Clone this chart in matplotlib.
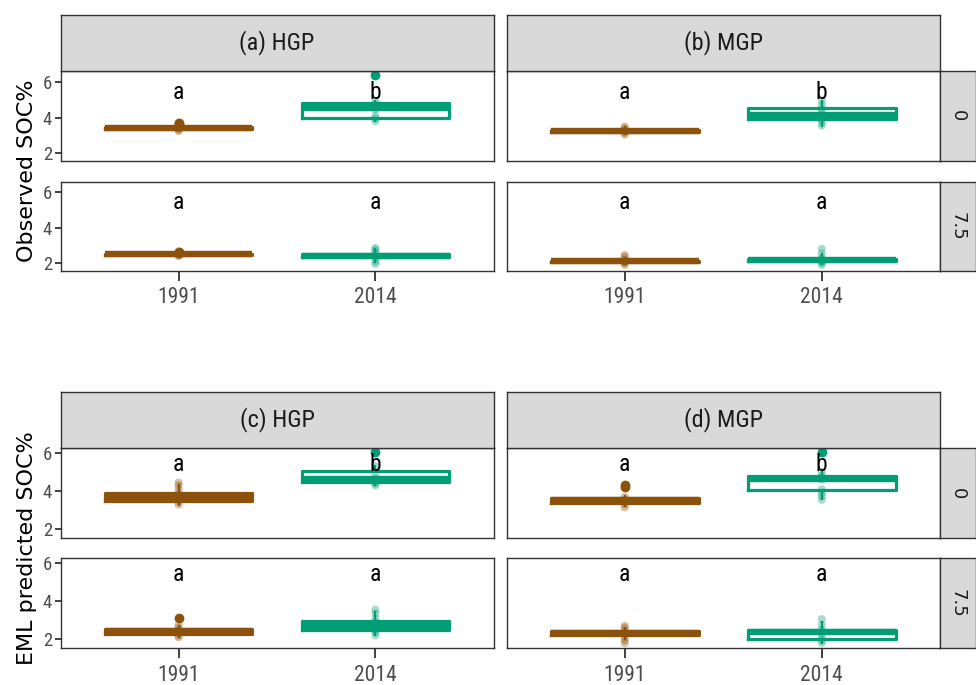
import matplotlib
matplotlib.use("Agg")
import matplotlib.pyplot as plt
import numpy as np

plt.rcParams["font.family"] = ["Roboto Condensed", "Liberation Sans", "DejaVu Sans"]

W, H = 976, 685

years = ["1991", "2014"]
depths = ["0", "7.5"]
obs_titles = ["(a) HGP", "(b) MGP"]
eml_titles = ["(c) HGP", "(d) MGP"]
y_titles = ["Observed SOC%", "EML predicted SOC%"]
colors = ["#8C510A", "#019E75"]

# box stats, one row per year: [q1, median, q3, whisker low, whisker high]
# observed SOC%
obs_hgp_0_box = [[3.38, 3.42, 3.46, 3.30, 3.56], [3.97, 4.52, 4.84, 3.80, 4.95]]
obs_hgp_0_pts = [[3.25, 3.32, 3.40, 3.45, 3.52, 3.62, 3.72], [3.80, 3.95, 4.10, 4.45, 4.60, 4.75, 4.90]]
obs_hgp_0_out = [[3.65, 3.72], [6.35]]

obs_hgp_75_box = [[2.47, 2.50, 2.53, 2.40, 2.62], [2.33, 2.42, 2.50, 2.05, 2.78]]
obs_hgp_75_pts = [[2.38, 2.45, 2.50, 2.55, 2.60, 2.66], [1.95, 2.10, 2.30, 2.45, 2.60, 2.75, 2.85]]
obs_hgp_75_out = [[2.58, 2.64], []]

obs_mgp_0_box = [[3.22, 3.26, 3.30, 3.10, 3.45], [3.90, 4.14, 4.54, 3.55, 4.95]]
obs_mgp_0_pts = [[3.05, 3.15, 3.25, 3.30, 3.40, 3.50], [3.55, 3.75, 3.90, 4.10, 4.30, 4.50, 4.70, 4.95]]
obs_mgp_0_out = [[], []]

obs_mgp_75_box = [[2.06, 2.09, 2.12, 1.95, 2.30], [2.12, 2.18, 2.25, 1.95, 2.50]]
obs_mgp_75_pts = [[1.90, 2.00, 2.05, 2.10, 2.20, 2.35, 2.45], [1.90, 2.00, 2.10, 2.20, 2.30, 2.55, 2.80]]
obs_mgp_75_out = [[], []]

# EML predicted SOC%
eml_hgp_0_box = [[3.47, 3.70, 3.92, 3.30, 4.30], [4.50, 4.62, 5.03, 4.30, 5.30]]
eml_hgp_0_pts = [[3.30, 3.45, 3.60, 3.75, 3.90, 4.10, 4.30, 4.45], [4.30, 4.40, 4.50, 4.65, 4.90, 5.30]]
eml_hgp_0_out = [[], [6.05]]

eml_hgp_75_box = [[2.30, 2.42, 2.55, 2.10, 2.70], [2.48, 2.72, 2.94, 2.20, 3.45]]
eml_hgp_75_pts = [[2.10, 2.20, 2.35, 2.45, 2.60, 2.75], [2.20, 2.35, 2.50, 2.70, 2.90, 3.10, 3.35, 3.55]]
eml_hgp_75_out = [[3.12], []]

eml_mgp_0_box = [[3.38, 3.52, 3.66, 3.20, 3.75], [4.05, 4.63, 4.80, 3.60, 5.00]]
eml_mgp_0_pts = [[3.15, 3.30, 3.45, 3.55, 3.70], [3.55, 3.75, 3.90, 4.10, 4.60, 4.80, 5.00]]
eml_mgp_0_out = [[4.20, 4.32], [6.05]]

eml_mgp_75_box = [[2.25, 2.35, 2.45, 2.00, 2.60], [2.00, 2.40, 2.50, 1.80, 2.90]]
eml_mgp_75_pts = [[1.80, 1.95, 2.10, 2.30, 2.45, 2.60, 2.70], [1.80, 1.95, 2.10, 2.30, 2.50, 2.75, 3.05]]
eml_mgp_75_out = [[], []]

# significance letters, [HGP, MGP] x [1991, 2014]
obs_letters_0 = [["a", "b"], ["a", "b"]]
obs_letters_75 = [["a", "a"], ["a", "a"]]
eml_letters_0 = [["a", "b"], ["a", "b"]]
eml_letters_75 = [["a", "a"], ["a", "a"]]

obs_ylim = (1.58, 6.6)
eml_ylim = (1.53, 6.26)

FRAME = "#333333"
STRIP_BG = "#D9D9D9"
TICK_TXT = "#4D4D4D"
WIDE = ["DejaVu Sans"]

fig = plt.figure(figsize=(W / 100, H / 100), dpi=100)


def px_axes(x0, y0, x1, y1):
    return fig.add_axes([x0 / W, 1 - y1 / H, (x1 - x0) / W, (y1 - y0) / H])


def style_frame(ax):
    for s in ax.spines.values():
        s.set_color(FRAME)
        s.set_linewidth(1.0)


def draw_panel(ax, box, pts, out, letters, ylim, left, bottom):
    for i, col in enumerate(colors):
        q1, med, q3, lo, hi = box[i]
        stats = [dict(q1=q1, med=med, q3=q3, whislo=lo, whishi=hi, fliers=out[i])]
        ax.bxp(stats, positions=[i + 1], widths=0.75, showcaps=False, showfliers=True,
               manage_ticks=False,
               boxprops=dict(color=col, linewidth=2.3),
               medianprops=dict(color=col, linewidth=4.6, solid_capstyle="butt"),
               whiskerprops=dict(color=col, linewidth=1.6),
               flierprops=dict(marker="o", markerfacecolor=col, markeredgecolor=col, markersize=6))
        ax.scatter(np.full(len(pts[i]), i + 1), pts[i], s=34, color=col, alpha=0.35,
                   edgecolors="none", zorder=3)
        ax.text(i + 1, 5.4, letters[i], ha="center", va="center", fontsize=17, color="black", zorder=4)
    ax.set_xlim(0.4, 2.6)
    ax.set_ylim(*ylim)
    style_frame(ax)
    ax.set_yticks([2, 4, 6])
    ax.set_xticks([1, 2])
    ax.tick_params(axis="y", left=left, labelleft=left, length=4, width=1.3, color=FRAME,
                   labelsize=13.5, labelcolor=TICK_TXT, pad=2)
    ax.tick_params(axis="x", bottom=bottom, labelbottom=bottom, length=7, width=1.3, color=FRAME,
                   labelsize=15.5, labelcolor=TICK_TXT, pad=5)
    ax.set_xticklabels(years)


def draw_strip(ax, label, rotation=0, family=None, size=17.5):
    ax.set_facecolor(STRIP_BG)
    ax.set_xticks([])
    ax.set_yticks([])
    style_frame(ax)
    kw = {} if family is None else {"family": family}
    ax.text(0.5, 0.5, label, transform=ax.transAxes, ha="center", va="center",
            rotation=rotation, fontsize=size, color="#1A1A1A", **kw)


cols_x = [(60.5, 493.5), (506.5, 940)]
groups = [
    dict(strip=(15, 71), rows=[(71, 161), (181.5, 270.5)], titles=obs_titles, ylim=obs_ylim,
         data=[[(obs_hgp_0_box, obs_hgp_0_pts, obs_hgp_0_out), (obs_mgp_0_box, obs_mgp_0_pts, obs_mgp_0_out)],
               [(obs_hgp_75_box, obs_hgp_75_pts, obs_hgp_75_out), (obs_mgp_75_box, obs_mgp_75_pts, obs_mgp_75_out)]],
         letters=[obs_letters_0, obs_letters_75], ylabel=y_titles[0]),
    dict(strip=(391.5, 448), rows=[(448, 538.3), (557.7, 648.3)], titles=eml_titles, ylim=eml_ylim,
         data=[[(eml_hgp_0_box, eml_hgp_0_pts, eml_hgp_0_out), (eml_mgp_0_box, eml_mgp_0_pts, eml_mgp_0_out)],
               [(eml_hgp_75_box, eml_hgp_75_pts, eml_hgp_75_out), (eml_mgp_75_box, eml_mgp_75_pts, eml_mgp_75_out)]],
         letters=[eml_letters_0, eml_letters_75], ylabel=y_titles[1]),
]

for g in groups:
    for c, (x0, x1) in enumerate(cols_x):
        for r, (y0, y1) in enumerate(g["rows"]):
            ax = px_axes(x0, y0, x1, y1)
            box, pts, out = g["data"][r][c]
            draw_panel(ax, box, pts, out, g["letters"][r][c], g["ylim"], left=(c == 0), bottom=(r == 1))
        draw_strip(px_axes(x0, g["strip"][0], x1, g["strip"][1]), g["titles"][c])
    for r, (y0, y1) in enumerate(g["rows"]):
        draw_strip(px_axes(940, y0, 976, y1), depths[r], rotation=-90, family=WIDE, size=13)
    yc = (g["rows"][0][0] + g["rows"][1][1]) / 2
    fig.text(27 / W, 1 - yc / H, g["ylabel"], rotation=90, ha="center", va="center",
             fontsize=16, family=WIDE, color="black")

fig.savefig("out.png", dpi=100)
